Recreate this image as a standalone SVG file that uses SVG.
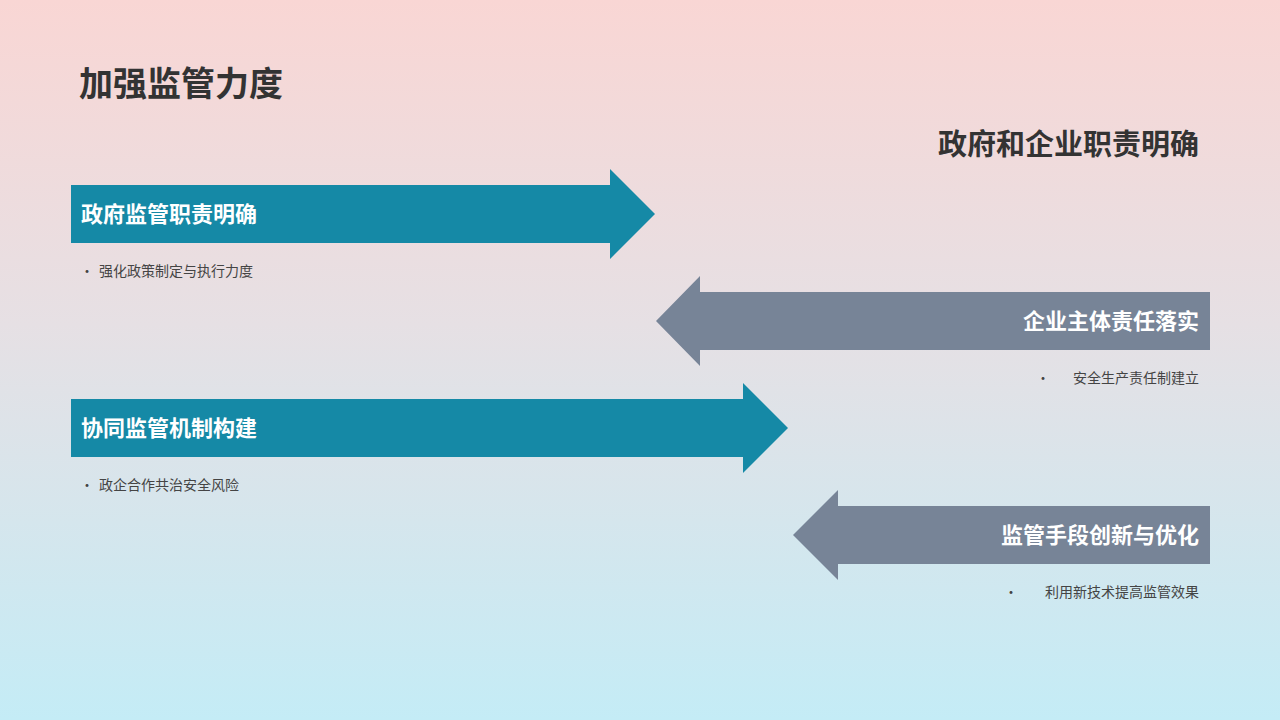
<svg xmlns="http://www.w3.org/2000/svg" width="1280" height="720" viewBox="0 0 1280 720">
<defs>
<linearGradient id="bg" x1="0" y1="0" x2="0" y2="1">
<stop offset="0" stop-color="#f9d6d4"/>
<stop offset="0.45" stop-color="#e6e0e4"/>
<stop offset="1" stop-color="#c4ecf6"/>
</linearGradient>
<style>
text{font-family:"Noto Sans CJK SC","Liberation Sans",sans-serif}
.t{font-weight:bold;fill:#333}
.lb{font-weight:bold;fill:#fff;font-size:22px}
.b{fill:#444;font-size:14px}
.teal{fill:#1589a6}
.grey{fill:#778497}
</style>
</defs>
<rect width="1280" height="720" fill="url(#bg)"/>
<text class="t" x="79" y="96" font-size="34">加强监管力度</text>
<text class="t" x="1199" y="155" font-size="29" text-anchor="end">政府和企业职责明确</text>
<g id="connectors"/>
<g id="n1">
<polygon class="teal" points="71,185 610,185 610,169 655,214 610,259 610,243 71,243"/>
<text class="lb" x="81" y="222">政府监管职责明确</text>
<text class="b" x="80" y="276">•</text><text class="b" x="99" y="276">强化政策制定与执行力度</text>
</g>
<g id="n2">
<polygon class="grey" points="1210,292 700,292 700,276 656,321 700,366 700,350 1210,350"/>
<text class="lb" x="1199" y="329" text-anchor="end">企业主体责任落实</text>
<text class="b" x="1036" y="383">•</text><text class="b" x="1199" y="383" text-anchor="end">安全生产责任制建立</text>
</g>
<g id="n3">
<polygon class="teal" points="71,399 743,399 743,383 788,428 743,473 743,457 71,457"/>
<text class="lb" x="81" y="436">协同监管机制构建</text>
<text class="b" x="80" y="490">•</text><text class="b" x="99" y="490">政企合作共治安全风险</text>
</g>
<g id="n4">
<polygon class="grey" points="1210,506 838,506 838,490 793,535 838,580 838,564 1210,564"/>
<text class="lb" x="1199" y="543" text-anchor="end">监管手段创新与优化</text>
<text class="b" x="1004" y="597">•</text><text class="b" x="1199" y="597" text-anchor="end">利用新技术提高监管效果</text>
</g>
</svg>
